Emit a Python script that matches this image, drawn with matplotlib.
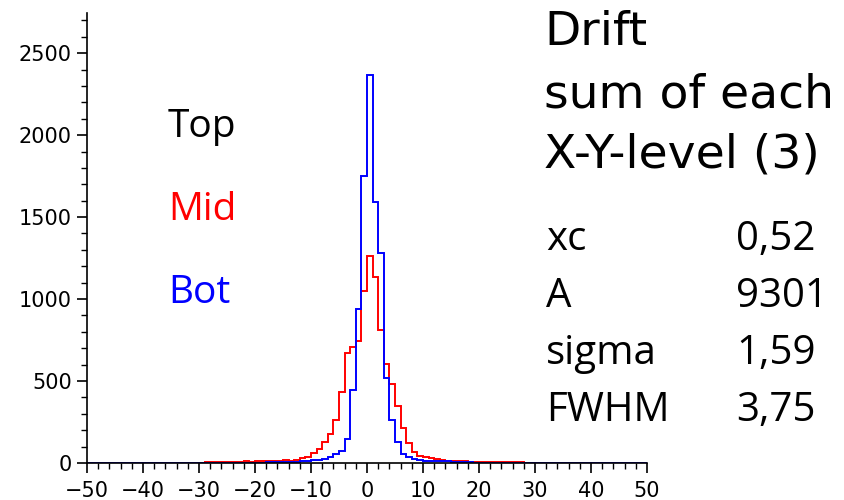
import numpy as np
import matplotlib.pyplot as plt
from matplotlib.ticker import MultipleLocator

# bin edges -50..50, width 1
edges = np.arange(-50, 51, 1)

# Mid (red) counts, read per bin from the picture: bins -30 .. 30
mid_start = -30
mid_counts = [2, 4, 5, 5, 6, 6, 7, 8, 10, 9,
              11, 12, 14, 13, 15, 17, 14, 16, 30, 38,
              59, 84, 128, 175, 260, 431, 669, 709, 744, 1049,
              1264, 1134, 809, 604, 482, 350, 211, 120, 69, 43,
              35, 30, 22, 18, 15, 13, 11, 10, 9, 8,
              7, 7, 6, 6, 5, 5, 4, 4, 3, 3, 2]

# Bot (blue) counts: bins -25 .. 24
bot_start = -25
bot_counts = [1, 1, 1, 2, 2, 3, 3, 4, 4, 5,
              6, 7, 8, 10, 12, 16, 20, 26, 35, 53,
              75, 144, 445, 941, 1752, 2366, 1593, 1283, 516, 262,
              126, 55, 35, 24, 19, 15, 13, 12, 11, 10,
              8, 6, 5, 4, 3, 3, 2, 2, 1, 1]

labels = ["Top", "Mid", "Bot"]
label_colors = ["black", "red", "blue"]

title_lines = ["Drift", "sum of each", "X-Y-level (3)"]
fit_names = ["xc", "A", "sigma", "FWHM"]
fit_values = ["0,52", "9301", "1,59", "3,75"]


def full_hist(start, counts):
    h = np.zeros(len(edges) - 1)
    i0 = start - edges[0]
    h[i0:i0 + len(counts)] = counts
    return h


mid = full_hist(mid_start, mid_counts)
bot = full_hist(bot_start, bot_counts)

W, H = 844, 500
fig = plt.figure(figsize=(W / 100, H / 100), dpi=100)
ax = fig.add_axes([87 / W, 1 - 463 / H, (647 - 87) / W, (463 - 13) / H])

ax.stairs(mid, edges, color="red", lw=1.4)
ax.stairs(bot, edges, color="blue", lw=1.4)

ax.set_xlim(-50, 50)
ax.set_ylim(0, 2745)
ax.xaxis.set_major_locator(MultipleLocator(10))
ax.xaxis.set_minor_locator(MultipleLocator(2))
ax.yaxis.set_major_locator(MultipleLocator(500))
ax.yaxis.set_minor_locator(MultipleLocator(100))
ax.spines["top"].set_visible(False)
ax.spines["right"].set_visible(False)
for s in ["left", "bottom"]:
    ax.spines[s].set_linewidth(1.2)
ax.tick_params(which="major", direction="out", length=7, width=1.2,
               labelsize=15)
ax.tick_params(which="minor", direction="out", length=4.5, width=1.0)
ax.tick_params(axis="y", which="major", pad=4)
ax.tick_params(axis="x", which="major", pad=6)

# series labels
for i, (t, c) in enumerate(zip(labels, label_colors)):
    fig.text(168 / W, 1 - (137 + i * 83) / H, t, color=c, fontsize=28,
             family="Open Sans", va="baseline", ha="left")

# title block
for i, (t, yb) in enumerate(zip(title_lines, [45, 108, 167])):
    fig.text(544 / W, 1 - yb / H, t, fontsize=34,
             family="DejaVu Sans", va="baseline", ha="left")

# fit parameters
for i, (n, v) in enumerate(zip(fit_names, fit_values)):
    y = 1 - (250 + i * 57) / H
    fig.text(546 / W, y, n, fontsize=29, family="Open Sans",
             va="baseline", ha="left")
    fig.text(736 / W, y, v, fontsize=29, family="Open Sans",
             va="baseline", ha="left")

fig.savefig("out.png", dpi=100)
